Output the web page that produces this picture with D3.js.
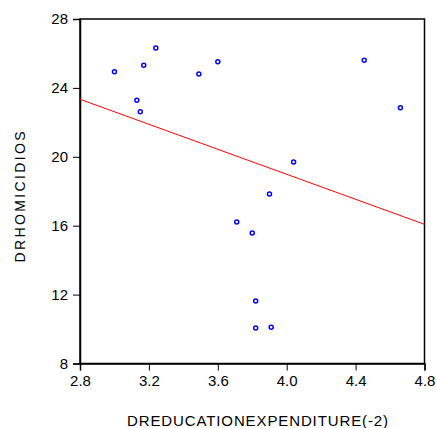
<!DOCTYPE html>
<html>
<head>
<meta charset="utf-8">
<script src="https://cdn.jsdelivr.net/npm/d3@7"></script>
<style>
  body { margin: 0; background: #fff; }
  text { font-family: "Liberation Sans", Arial, sans-serif; }
</style>
</head>
<body>
<div id="viz"></div>
<script>
// scatter values
const educationExp = [3.00, 3.13, 3.15, 3.17, 3.24, 3.49, 3.60, 4.45, 4.66, 4.04, 3.90, 3.71, 3.80, 3.82, 3.82, 3.91];
const homicidios = [24.94, 23.28, 22.62, 25.31, 26.32, 24.81, 25.52, 25.60, 22.85, 19.70, 17.84, 16.21, 15.58, 11.63, 10.06, 10.10];

// fitted regression line, read at both ends of the x range
const fitX = [2.8, 4.8];
const fitY = [23.34, 16.08];

const xTicks = [2.8, 3.2, 3.6, 4.0, 4.4, 4.8];
const yTicks = [8, 12, 16, 20, 24, 28];

const width = 436;
const height = 428;
const margin = {top: 19, right: 11.5, bottom: 64.5, left: 80};

const svg = d3.select("#viz").append("svg")
    .attr("width", width)
    .attr("height", height);

const x = d3.scaleLinear().domain([2.8, 4.8]).range([margin.left, width - margin.right]);
const y = d3.scaleLinear().domain([8, 28]).range([height - margin.bottom, margin.top]);

// frame
svg.append("rect")
    .attr("x", x(2.8))
    .attr("y", y(28))
    .attr("width", x(4.8) - x(2.8))
    .attr("height", y(8) - y(28))
    .attr("fill", "none")
    .attr("stroke", "#000")
    .attr("stroke-width", 1.5);

const xAxis = svg.append("g")
    .attr("transform", `translate(0,${y(8)})`)
    .call(d3.axisBottom(x).tickValues(xTicks).tickFormat(d3.format(".1f")).tickSizeOuter(0).tickSize(7).tickPadding(5));

const yAxis = svg.append("g")
    .attr("transform", `translate(${x(2.8)},0)`)
    .call(d3.axisLeft(y).tickValues(yTicks).tickFormat(d3.format("d")).tickSizeOuter(0).tickSize(7).tickPadding(5));

[xAxis, yAxis].forEach(g => {
    g.select(".domain").attr("stroke", "#000").attr("stroke-width", 1.5);
    g.selectAll(".tick line").attr("stroke", "#000").attr("stroke-width", 1);
    g.selectAll(".tick text")
        .attr("fill", "#000")
        .style("font-size", "15px")
        .style("font-family", "'Liberation Sans', Arial, sans-serif");
});

// regression line
svg.append("line")
    .attr("x1", x(fitX[0]))
    .attr("y1", y(fitY[0]))
    .attr("x2", x(fitX[1]))
    .attr("y2", y(fitY[1]))
    .attr("stroke", "#ff0000")
    .attr("stroke-width", 1);

// points
svg.selectAll("circle.pt")
    .data(educationExp.map((d, i) => ({x: d, y: homicidios[i]})))
    .enter()
    .append("circle")
    .attr("class", "pt")
    .attr("cx", d => x(d.x))
    .attr("cy", d => y(d.y))
    .attr("r", 2)
    .attr("fill", "none")
    .attr("stroke", "#0000ff")
    .attr("stroke-width", 1.5);

// axis titles
svg.append("text")
    .attr("x", 257.5)
    .attr("y", 426)
    .attr("text-anchor", "middle")
    .attr("textLength", 261)
    .style("font-size", "15px")
    .text("DREDUCATIONEXPENDITURE(-2)");

svg.append("text")
    .attr("transform", "translate(25,197) rotate(-90)")
    .attr("text-anchor", "middle")
    .attr("textLength", 131)
    .style("font-size", "14px")
    .text("DRHOMICIDIOS");
</script>
</body>
</html>
